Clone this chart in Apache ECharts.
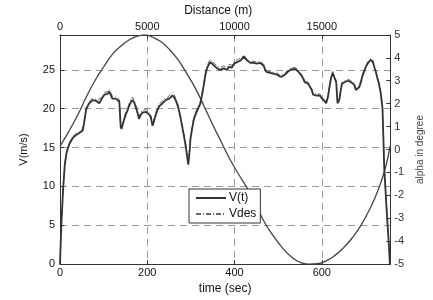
<!DOCTYPE html>
<html>
<head>
<meta charset="utf-8">
<script src="https://cdn.jsdelivr.net/npm/echarts@6/dist/echarts.min.js"></script>
<style>
html,body{margin:0;padding:0;background:#fff;}
#chart{width:433px;height:300px;}
</style>
</head>
<body>
<div id="chart"></div>
<script>
// time samples (s) for measured speed
var vTime = [0,3,7,11,15,18,22,26,30,33,37,41,45,48,52,55,60,64,67,71,75,79,83,87,90,94,98,102,105,109,113,116,120,124,128,132,136,139,141,143,147,151,155,158,162,166,170,173,177,181,185,189,193,197,201,205,208,212,216,220,224,227,231,235,239,242,246,250,254,258,262,265,269,273,277,280,284,288,291,294,297,299,303,307,311,314,318,322,326,330,333,337,341,345,349,352,356,360,364,367,371,375,379,383,387,390,394,399,403,406,410,414,418,421,425,429,433,436,440,444,448,451,455,459,463,467,470,474,478,482,486,490,497,502,508,512,516,520,523,527,531,535,539,543,546,550,554,558,561,565,569,573,577,580,583,587,591,595,599,602,606,610,614,617,621,625,629,633,636,640,643,646,649,652,656,659,663,667,670,674,678,682,686,690,693,697,701,705,708,712,714,717,720,724,727,731,735,739,741,743,746,748,751,754,756];
// measured speed V(t) (m/s)
var vSpeed = [0,5,9.5,12.8,14.3,14.9,15.5,15.9,16.3,16.1,16.6,16.5,16.9,16.7,17.2,18.1,19.9,20.4,20.7,20.9,21.1,21.0,21.0,20.8,20.7,21.1,21.5,21.8,22.0,21.9,22.2,21.8,21.3,21.5,21.3,21.2,20.9,17.7,17.4,17.6,18.6,19.3,19.8,20.3,20.8,21.1,20.8,20.3,19.6,18.7,19.2,19.5,19.7,19.6,19.5,19.2,18.9,17.8,18.5,19.3,19.9,20.3,20.5,20.7,20.9,21.1,21.0,21.3,21.5,21.7,21.4,21.1,20.5,19.7,18.6,17.7,16.5,15.2,14.0,12.8,14.5,16.1,17.5,18.7,19.3,19.7,20.2,20.7,21.9,23.2,24.3,25.2,25.7,26.0,25.8,25.6,25.4,25.2,25.1,25.0,25.2,25.2,25.0,25.0,25.4,25.6,25.3,25.8,25.9,26.0,26.1,26.2,26.4,26.7,26.5,26.2,26.0,25.9,25.9,25.9,25.8,25.8,25.9,25.9,26.0,25.5,25.0,24.7,24.6,24.6,24.6,24.5,24.4,24.2,24.1,24.2,24.4,24.6,24.8,25.0,25.1,25.1,25.1,25.0,24.8,24.5,24.2,23.8,23.4,23.3,23.2,22.8,22.4,21.8,21.6,21.7,21.5,21.7,21.4,21.3,21.0,20.7,21.5,22.6,23.9,24.6,24.6,23.4,20.7,21.1,22.2,23.2,23.3,23.4,23.5,23.6,23.5,23.4,23.6,23.1,22.4,22.5,22.8,23.5,24.2,24.8,25.4,25.8,26.0,26.3,26.4,26.0,25.4,24.7,24.0,23.2,22.0,20.1,16.5,12.5,9.5,7.5,4.8,2.2,0];
// desired speed Vdes (m/s)
var vDes = [0,5.2,9.7,13.0,14.5,15.1,15.7,16.1,16.5,16.4,16.8,16.8,17.1,17.0,17.4,18.3,20.1,20.6,20.9,21.2,21.4,21.3,21.3,21.1,21.0,21.4,21.8,22.1,22.3,22.2,22.5,22.1,21.6,21.8,21.6,21.5,21.2,18.0,17.7,17.9,18.9,19.6,20.1,20.6,21.1,21.5,21.1,20.6,19.9,19.0,19.5,19.8,20.0,19.9,19.8,19.5,19.2,18.1,18.8,19.6,20.2,20.6,20.8,21.0,21.3,21.5,21.4,21.7,21.9,22.1,21.8,21.4,20.8,20.0,18.9,18.0,16.8,15.5,14.3,13.1,14.8,16.4,17.8,19.0,19.6,20.0,20.5,21.0,22.2,23.5,24.6,25.5,26.0,26.4,26.2,25.9,25.7,25.5,25.4,25.3,25.5,25.5,25.3,25.3,25.7,25.9,25.6,26.1,26.2,26.3,26.4,26.5,26.7,26.9,26.7,26.4,26.2,26.1,26.1,26.1,26.0,26.0,26.1,26.1,26.2,25.7,25.2,24.9,24.8,24.8,24.8,24.7,24.6,24.4,24.3,24.4,24.6,24.8,25.0,25.2,25.3,25.3,25.3,25.2,25.0,24.7,24.4,24.0,23.6,23.5,23.4,23.0,22.6,22.0,21.8,21.9,21.7,21.9,21.6,21.5,21.2,20.9,21.7,22.8,24.1,24.8,24.8,23.6,20.9,21.3,22.4,23.4,23.5,23.6,23.7,23.8,23.7,23.6,23.8,23.3,22.6,22.7,23.0,23.7,24.4,25.0,25.6,26.0,26.2,26.5,26.6,26.2,25.6,24.9,24.2,23.4,22.2,20.3,16.7,12.7,9.7,7.7,5.0,2.4,0];
// time samples (s) for road slope
var alphaTime = [0,20,40,60,80,100,120,140,160,180,195,210,230,250,270,290,310,330,350,370,390,410,430,450,470,490,510,530,550,570,590,610,630,650,670,690,710,730,745,757];
// road slope alpha (degree)
var alphaDeg = [0.15,0.78,1.48,2.28,3.0,3.6,4.15,4.52,4.8,4.96,5.0,4.92,4.72,4.38,3.93,3.33,2.68,1.9,1.08,0.32,-0.45,-1.1,-1.72,-2.45,-3.22,-3.8,-4.3,-4.68,-4.92,-5.0,-4.98,-4.86,-4.62,-4.28,-3.85,-3.3,-2.6,-1.72,-0.85,0.17];
// axis settings
var timeTicks = [0,200,400,600];
var distTicks = [0,5000,10000,15000];
var tMax = 757;
var distMax = 18925;

function pairs(xs, ys){ var o=[]; for(var i=0;i<xs.length;i++){ o.push([xs[i], ys[i]]); } return o; }

var FONT = 'Liberation Sans';
var gridDash = {show:true, lineStyle:{color:'#9a9a9a', type:[7,5], width:1}};
var axisLineStyle = {show:true, onZero:false, lineStyle:{color:'#333', width:1}};

var chart = echarts.init(document.getElementById('chart'), null, {renderer:'canvas'});
chart.setOption({
  animation:false,
  backgroundColor:'#fff',
  textStyle:{fontFamily:FONT},
  grid:{left:60, right:40, top:23, bottom:35, containLabel:false},
  legend:{
    data:['V(t)','Vdes'],
    orient:'vertical',
    left:189, top:189,
    itemWidth:30, itemHeight:10, itemGap:4,
    padding:[3,4,3,6],
    itemStyle:{opacity:0},
    borderColor:'#333', borderWidth:1, backgroundColor:'#fff',
    textStyle:{fontFamily:FONT, fontSize:12, color:'#111', padding:[0,0,0,-2]}
  },
  xAxis:[
    {type:'value', position:'bottom', min:0, max:tMax, interval:200,
     name:'time (sec)', nameLocation:'middle', nameGap:14,
     nameTextStyle:{fontFamily:FONT, fontSize:12, color:'#111'},
     axisLine:axisLineStyle,
     axisTick:{show:true, inside:true, length:4, lineStyle:{color:'#333'}},
     axisLabel:{margin:3, fontFamily:FONT, fontSize:11, color:'#111',
       formatter:function(v){ return timeTicks.indexOf(v)>=0 ? String(v) : ''; }},
     splitLine:gridDash},
    {type:'value', position:'top', min:0, max:distMax, interval:5000,
     name:'Distance (m)', nameLocation:'middle', nameGap:13,
     nameTextStyle:{fontFamily:FONT, fontSize:12, color:'#111', padding:[0,14,0,0]},
     axisLine:axisLineStyle,
     axisTick:{show:true, inside:true, length:4, lineStyle:{color:'#333'}},
     axisLabel:{margin:2, fontFamily:FONT, fontSize:11, color:'#111',
       formatter:function(v){ return distTicks.indexOf(v)>=0 ? String(v) : ''; }},
     splitLine:{show:false}}
  ],
  yAxis:[
    {type:'value', position:'left', min:0, max:29.5, interval:5,
     name:'V(m/s)', nameLocation:'middle', nameGap:31, nameRotate:90,
     nameTextStyle:{fontFamily:FONT, fontSize:11, color:'#111'},
     axisLine:axisLineStyle,
     axisTick:{show:true, inside:true, length:4, lineStyle:{color:'#333'}},
     axisLabel:{margin:5, fontFamily:FONT, fontSize:11, color:'#111',
       formatter:function(v){ return (v%5===0) ? String(v) : ''; }},
     splitLine:gridDash},
    {type:'value', position:'right', min:-5, max:5, interval:1,
     name:'alpha in degree', nameLocation:'middle', nameGap:21, nameRotate:90,
     nameTextStyle:{fontFamily:FONT, fontSize:10, color:'#444'},
     axisLine:axisLineStyle,
     axisTick:{show:true, inside:true, length:4, lineStyle:{color:'#333'}},
     axisLabel:{margin:4, fontFamily:FONT, fontSize:11, color:'#333'},
     splitLine:{show:false}}
  ],
  series:[
    {name:'alpha', type:'line', xAxisIndex:0, yAxisIndex:1, data:pairs(alphaTime, alphaDeg),
     smooth:true, symbol:'none', lineStyle:{color:'#444', width:1.3}, z:2},
    {name:'Vdes', type:'line', xAxisIndex:0, yAxisIndex:0, data:pairs(vTime, vDes),
     symbol:'none', lineStyle:{color:'#666', width:1, type:[5,2,1,2]}, itemStyle:{color:'#666'}, z:3},
    {name:'V(t)', type:'line', xAxisIndex:0, yAxisIndex:0, data:pairs(vTime, vSpeed),
     symbol:'none', lineStyle:{color:'#333', width:1.8}, itemStyle:{color:'#333'}, z:4}
  ]
});
</script>
</body>
</html>
